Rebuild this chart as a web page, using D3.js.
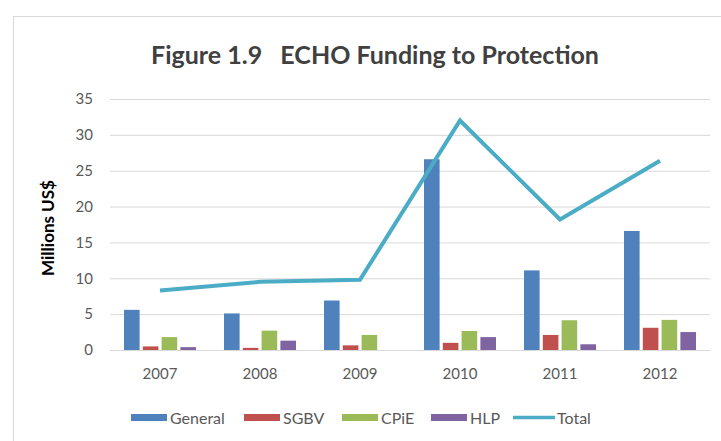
<!DOCTYPE html>
<html>
<head>
<meta charset="utf-8">
<script src="https://cdn.jsdelivr.net/npm/d3@7"></script>
<style>
  body { margin: 0; background: #fff; }
  text { font-family: Lato, "Open Sans", sans-serif; }
</style>
</head>
<body>
<svg width="721" height="441"></svg>
<script>
var years = ["2007", "2008", "2009", "2010", "2011", "2012"];
var seriesNames = ["General", "SGBV", "CPiE", "HLP"];
var general = [5.6, 5.1, 6.9, 26.6, 11.1, 16.6];
var sgbv = [0.5, 0.3, 0.65, 1.0, 2.1, 3.1];
var cpie = [1.8, 2.7, 2.1, 2.65, 4.15, 4.2];
var hlp = [0.4, 1.3, 0, 1.8, 0.8, 2.5];
var total = [8.3, 9.5, 9.8, 32.0, 18.2, 26.4];
var yTicks = [0, 5, 10, 15, 20, 25, 30, 35];
var colors = ["#4f81bd", "#c0504d", "#9bbb59", "#8064a2"];
var totalColor = "#4bacc6";

var svg = d3.select("svg");

// chart frame
svg.append("rect")
    .attr("x", 13.5).attr("y", 16.5)
    .attr("width", 720).attr("height", 440)
    .attr("fill", "none")
    .attr("stroke", "#d9d9d9");

svg.append("text")
    .attr("x", 375).attr("y", 64)
    .attr("text-anchor", "middle")
    .attr("font-size", 25)
    .attr("font-weight", "bold")
    .attr("fill", "#404040")
    .attr("xml:space", "preserve")
    .text("Figure 1.9   ECHO Funding to Protection");

var x = d3.scaleBand().domain(years).range([110, 710]);
var y = d3.scaleLinear().domain([0, 35]).range([350, 99]);
var inner = d3.scaleBand().domain(seriesNames).range([0, 72]).paddingInner(0.17);

var yAxis = svg.append("g")
    .attr("transform", "translate(110,0)")
    .call(d3.axisLeft(y).tickValues(yTicks).tickSize(-600).tickPadding(17));
yAxis.select(".domain").remove();
yAxis.selectAll(".tick line").attr("stroke", "#d9d9d9");
yAxis.selectAll(".tick text")
    .attr("font-size", 15)
    .attr("fill", "#595959")
    .style("font-family", "Lato, sans-serif");

var xAxis = svg.append("g")
    .attr("transform", "translate(0,350)")
    .call(d3.axisBottom(x).tickSize(0).tickPadding(18));
xAxis.select(".domain").attr("stroke", "#d9d9d9");
xAxis.selectAll(".tick text")
    .attr("font-size", 15)
    .attr("fill", "#595959")
    .style("font-family", "Lato, sans-serif");

svg.append("text")
    .attr("transform", "translate(54,228) rotate(-90)")
    .attr("text-anchor", "middle")
    .attr("font-size", 17)
    .attr("font-weight", "bold")
    .attr("fill", "#000")
    .text("Millions US$");

var seriesData = [general, sgbv, cpie, hlp];

seriesData.forEach(function(vals, i) {
    svg.append("g").selectAll("rect")
        .data(vals)
        .enter().append("rect")
        .attr("x", function(d, j) {
            return x(years[j]) + x.bandwidth() / 2 - 36 + inner(seriesNames[i]);
        })
        .attr("width", inner.bandwidth())
        .attr("y", function(d) { return y(d); })
        .attr("height", function(d) { return y(0) - y(d); })
        .attr("fill", colors[i]);
});

var line = d3.line()
    .x(function(d, j) { return x(years[j]) + x.bandwidth() / 2; })
    .y(function(d) { return y(d); });

svg.append("path")
    .datum(total)
    .attr("d", line)
    .attr("fill", "none")
    .attr("stroke", totalColor)
    .attr("stroke-width", 4)
    .attr("stroke-linejoin", "miter");

// legend
var legendX = [131, 244, 342, 431];
seriesNames.forEach(function(name, i) {
    svg.append("rect")
        .attr("x", legendX[i]).attr("y", 414)
        .attr("width", 36).attr("height", 7)
        .attr("fill", colors[i]);
    svg.append("text")
        .attr("x", legendX[i] + 39).attr("y", 423.5)
        .attr("font-size", 16)
        .attr("fill", "#595959")
        .text(name);
});
svg.append("line")
    .attr("x1", 513).attr("x2", 555)
    .attr("y1", 417.5).attr("y2", 417.5)
    .attr("stroke", totalColor)
    .attr("stroke-width", 3.5);
svg.append("text")
    .attr("x", 557).attr("y", 423.5)
    .attr("font-size", 16)
    .attr("fill", "#595959")
    .text("Total");
</script>
</body>
</html>
